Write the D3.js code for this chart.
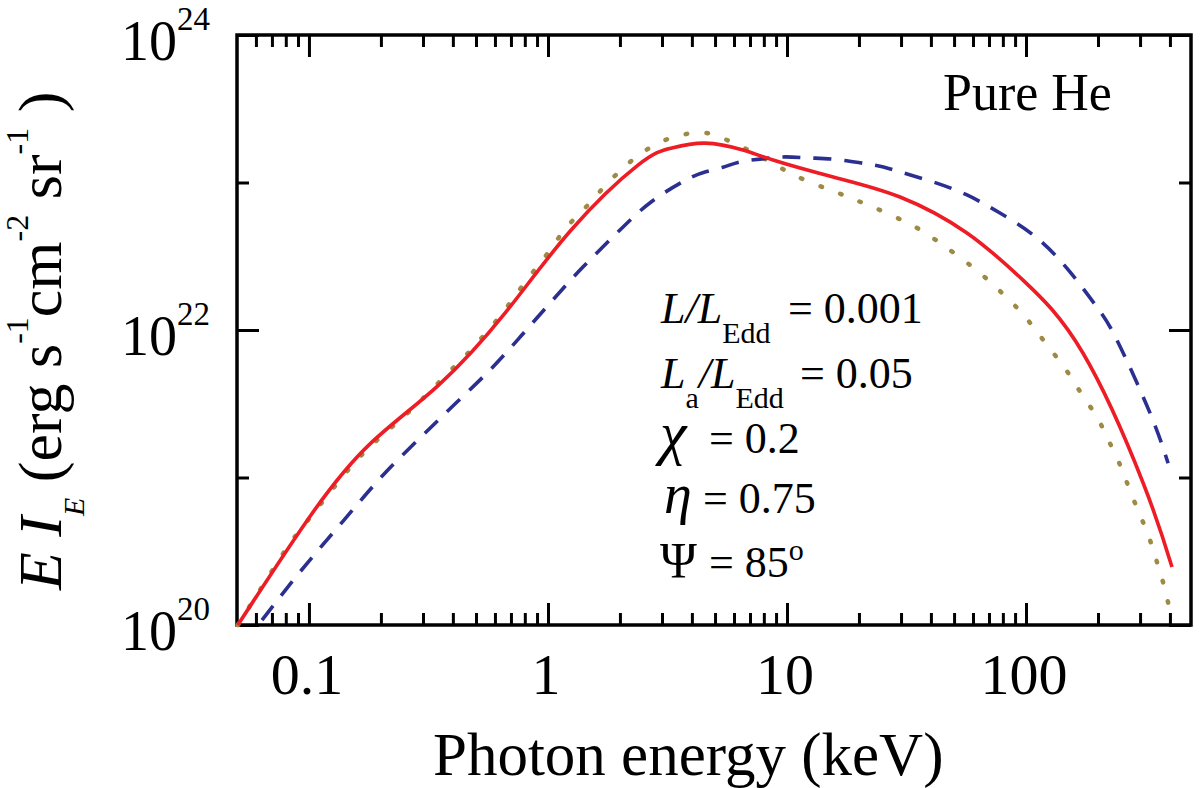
<!DOCTYPE html>
<html>
<head>
<meta charset="utf-8">
<script src="https://cdn.jsdelivr.net/npm/d3@7"></script>
<style>
  body { margin: 0; background: #fff; }
  text { font-family: "Liberation Serif", "Times New Roman", serif; white-space: pre; }
</style>
</head>
<body>
<svg id="chart" width="1200" height="788" font-family="Liberation Serif, serif"></svg>
<script>
// solid red curve
const solidE = [0.0504, 0.102, 0.1815, 0.347, 0.661, 1.25, 2.38, 3.27, 4.54, 6.54, 8.74, 15.6, 29.7, 56.6, 97.1, 173, 309, 408];
const solidI = [1.0e20, 5.57e20, 1.71e21, 4.20e21, 1.30e22, 4.76e22, 1.31e23, 1.71e23, 1.85e23, 1.66e23, 1.42e23, 1.09e23, 7.98e22, 4.55e22, 2.18e22, 6.98e21, 9.18e20, 2.47e20];

// dashed blue curve
const dashE = [0.0636, 0.0874, 0.117, 0.156, 0.210, 0.294, 0.408, 0.572, 0.771, 1.03, 1.40, 1.96, 2.70, 3.78, 4.54, 5.40, 6.36, 7.71, 9.62, 12.1, 15.6, 20.2, 24.5, 29.7, 40.8, 56.6, 77.8, 111, 153, 198, 240, 330, 393];
const dashI = [1.08e20, 2.08e20, 3.66e20, 6.31e20, 1.09e21, 1.88e21, 3.15e21, 5.36e21, 9.10e21, 1.55e22, 2.67e22, 4.61e22, 7.38e22, 1.04e23, 1.18e23, 1.27e23, 1.38e23, 1.44e23, 1.49e23, 1.47e23, 1.44e23, 1.36e23, 1.29e23, 1.18e23, 1.01e23, 8.23e22, 6.21e22, 4.21e22, 2.47e22, 1.43e22, 8.55e21, 2.74e21, 1.25e21];

// dotted olive curve
const dotE = [0.0504, 0.0763, 0.0899, 0.120, 0.171, 0.259, 0.382, 0.463, 0.550, 0.649, 0.749, 0.865, 1.02, 1.19, 1.43, 1.70, 2.06, 2.50, 3.09, 3.78, 4.58, 5.61, 6.87, 8.49, 10.3, 12.7, 15.6, 18.9, 22.9, 28.3, 35.0, 42.5, 51.9, 64.2, 79.4, 96.2, 112, 132, 153, 173, 198, 218, 240, 260, 280, 306, 330, 353, 374, 400];
const dotI = [1.0e20, 2.89e20, 4.21e20, 7.61e20, 1.49e21, 2.74e21, 5.11e21, 6.98e21, 9.55e21, 1.32e22, 1.81e22, 2.47e22, 3.48e22, 4.92e22, 6.72e22, 9.18e22, 1.25e23, 1.61e23, 1.94e23, 2.13e23, 2.17e23, 1.94e23, 1.66e23, 1.38e23, 1.16e23, 9.93e22, 8.75e22, 7.73e22, 6.82e22, 5.84e22, 4.92e22, 4.01e22, 3.18e22, 2.43e22, 1.78e22, 1.30e22, 9.55e21, 6.78e21, 4.88e21, 3.57e21, 2.57e21, 1.88e21, 1.36e21, 9.93e20, 7.27e20, 5.15e20, 3.77e20, 2.67e20, 1.96e20, 1.26e20];

const xMajor = [0.1, 1, 10, 100];
const xLabels = ["0.1", "1", "10", "100"];
const yMajorExp = [20, 22, 24];
const yMinorExp = [21, 23];

const svg = d3.select("#chart");
const padL = 237, padR = 1191, padT = 35, padB = 625;

const x = d3.scaleLog().domain([0.05, 490]).range([padL, padR]);
const y = d3.scaleLog().domain([1e20, 1e24]).range([padB, padT]);

svg.append("rect").attr("width", 1200).attr("height", 788).attr("fill", "#fff");

// ticks, all pointing inwards
const xMinor = x.ticks().filter(v => !xMajor.some(m => Math.abs(m - v) / m < 1e-6) && v > 0.055);
function tickGroup(axis, tx, ty) {
  const g = svg.append("g").attr("transform", `translate(${tx},${ty})`).call(axis);
  g.select(".domain").remove();
  g.selectAll("line").attr("stroke", "#000").attr("stroke-width", 3);
  g.selectAll("text").remove();
}
tickGroup(d3.axisBottom(x).tickValues(xMajor).tickSize(-22), 0, padB);
tickGroup(d3.axisBottom(x).tickValues(xMinor).tickSize(-12), 0, padB);
tickGroup(d3.axisTop(x).tickValues(xMajor).tickSize(-22), 0, padT);
tickGroup(d3.axisTop(x).tickValues(xMinor).tickSize(-12), 0, padT);
const yMaj = yMajorExp.map(e => Math.pow(10, e));
const yMin = yMinorExp.map(e => Math.pow(10, e));
tickGroup(d3.axisLeft(y).tickValues(yMaj).tickSize(-22), padL, 0);
tickGroup(d3.axisLeft(y).tickValues(yMin).tickSize(-12), padL, 0);
tickGroup(d3.axisRight(y).tickValues(yMaj).tickSize(-22), padR, 0);
tickGroup(d3.axisRight(y).tickValues(yMin).tickSize(-12), padR, 0);

// frame
svg.append("rect")
  .attr("x", padL).attr("y", padT)
  .attr("width", padR - padL).attr("height", padB - padT)
  .attr("fill", "none").attr("stroke", "#000").attr("stroke-width", 3.5);

// curves
const line = d3.line().x(d => x(d[0])).y(d => y(d[1])).curve(d3.curveNatural);
const zip = (a, b) => a.map((v, i) => [v, b[i]]);

svg.append("path").datum(zip(dotE, dotI)).attr("d", line)
  .attr("fill", "none").attr("stroke", "#9c8a45").attr("stroke-width", 4.5)
  .attr("stroke-dasharray", "1.5,19.5").attr("stroke-linecap", "round");
svg.append("path").datum(zip(dashE, dashI)).attr("d", line)
  .attr("fill", "none").attr("stroke", "#2b3090").attr("stroke-width", 3.6)
  .attr("stroke-dasharray", "18,13");
svg.append("path").datum(zip(solidE, solidI)).attr("d", line)
  .attr("fill", "none").attr("stroke", "#ee1c25").attr("stroke-width", 3.6);

// x tick labels
svg.selectAll(".xl").data(xMajor).enter().append("text")
  .attr("x", d => x(d) - 2).attr("y", 694)
  .attr("text-anchor", "middle").attr("font-size", 58)
  .text((d, i) => xLabels[i]);

// y tick labels 10^n
yMajorExp.forEach(e => {
  const yy = y(Math.pow(10, e));
  svg.append("text").attr("x", 177).attr("y", yy + 25)
    .attr("text-anchor", "end").attr("font-size", 56).text("10");
  svg.append("text").attr("x", 177).attr("y", yy - 5)
    .attr("font-size", 33).text(String(e));
});

// axis titles
svg.append("text").attr("x", 433).attr("y", 775).attr("font-size", 61)
  .text("Photon energy (keV)");

const yt = svg.append("text").attr("transform", "translate(61,590) rotate(-90)")
  .attr("font-size", 62);
const yParts = [
  { t: "E", it: true },
  { t: " I", it: true },
  { t: "E", it: true, fs: 30, dy: 23 },
  { t: " (erg s", dy: -23 },
  { t: "-1", fs: 32, dy: -33 },
  { t: "cm", dy: 33 },
  { t: "-2", fs: 32, dy: -33 },
  { t: " sr", dy: 33 },
  { t: "-1", fs: 32, dy: -33 },
  { t: " )", dy: 33 }
];
yParts.forEach(p => {
  const s = yt.append("tspan").text(p.t);
  if (p.it) s.attr("font-style", "italic");
  if (p.fs) s.attr("font-size", p.fs);
  if (p.dy) s.attr("dy", p.dy);
});

// annotations
svg.append("text").attr("x", 943).attr("y", 110).attr("font-size", 52).text("Pure He");

function ann(parts, bx, by) {
  const t = svg.append("text").attr("x", bx).attr("y", by).attr("font-size", 44);
  parts.forEach(p => {
    const s = t.append("tspan").text(p.t);
    if (p.it) s.attr("font-style", "italic");
    if (p.fs) s.attr("font-size", p.fs);
    if (p.dy) s.attr("dy", p.dy);
    if (p.x) s.attr("x", p.x);
  });
}
ann([{ t: "L/L", it: true }, { t: "Edd", fs: 30, dy: 20 }, { t: "= 0.001", dy: -20, x: 788 }], 661, 323);
ann([{ t: "L", it: true }, { t: "a", fs: 30, dy: 20 }, { t: "/L", it: true, dy: -20 }, { t: "Edd", fs: 30, dy: 20 }, { t: "= 0.05", dy: -20, x: 800 }], 661, 388);
ann([{ t: "\u03c7", it: true, fs: 60 }, { t: "= 0.2", x: 709 }], 660, 453);
ann([{ t: "\u03b7", it: true, fs: 56 }, { t: "= 0.75", x: 703 }], 664, 513);
ann([{ t: "\u03a8", fs: 50 }, { t: "= 85", x: 709 }, { t: "o", fs: 30, dy: -17 }], 660, 577);
</script>
</body>
</html>
